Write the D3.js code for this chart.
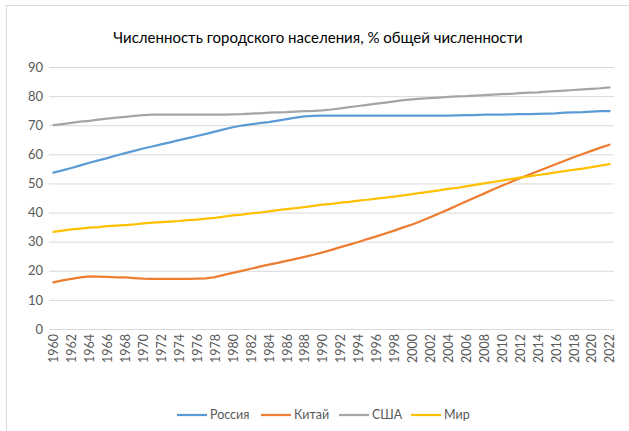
<!DOCTYPE html>
<html>
<head>
<meta charset="utf-8">
<script src="https://cdn.jsdelivr.net/npm/d3@7"></script>
<style>
  html, body { margin: 0; padding: 0; background: #fff; }
  svg { display: block; font-family: Lato, "Open Sans", sans-serif; }
</style>
</head>
<body>
<svg id="chart" width="629" height="431"></svg>
<script>
// Urban population, % of total population, 1960–2022
const years = d3.range(1960, 2023);

const russia = [
  53.7, 54.5, 55.3, 56.2, 57.1, 57.9, 58.7, 59.6, 60.4, 61.2,
  62.0, 62.7, 63.4, 64.1, 64.9, 65.6, 66.3, 67.0, 67.8, 68.6,
  69.3, 69.9, 70.3, 70.7, 71.1, 71.6, 72.1, 72.6, 73.0, 73.2,
  73.3, 73.3, 73.3, 73.3, 73.3, 73.3, 73.3, 73.3, 73.3, 73.3,
  73.3, 73.3, 73.3, 73.3, 73.3, 73.4, 73.5, 73.5, 73.6, 73.6,
  73.6, 73.7, 73.8, 73.8, 73.9, 74.0, 74.1, 74.3, 74.4, 74.5,
  74.7, 74.8, 74.8
];

const china = [
  16.0, 16.7, 17.2, 17.7, 18.1, 18.0, 17.9, 17.7, 17.7, 17.5,
  17.3, 17.2, 17.2, 17.2, 17.2, 17.2, 17.3, 17.4, 17.8, 18.6,
  19.3, 20.0, 20.7, 21.4, 22.1, 22.7, 23.4, 24.1, 24.8, 25.5,
  26.3, 27.2, 28.1, 29.0, 29.9, 30.9, 31.8, 32.8, 33.8, 34.9,
  35.9, 37.1, 38.4, 39.7, 41.0, 42.4, 43.8, 45.2, 46.5, 47.9,
  49.2, 50.5, 51.8, 53.0, 54.2, 55.4, 56.6, 57.8, 59.0, 60.1,
  61.2, 62.3, 63.3
];

const usa = [
  70.0, 70.4, 70.8, 71.2, 71.5, 71.9, 72.3, 72.6, 72.9, 73.2,
  73.5, 73.6, 73.6, 73.6, 73.6, 73.6, 73.6, 73.6, 73.6, 73.6,
  73.7, 73.8, 74.0, 74.1, 74.3, 74.4, 74.5, 74.7, 74.8, 74.9,
  75.1, 75.4, 75.8, 76.2, 76.6, 77.0, 77.4, 77.8, 78.2, 78.6,
  78.9, 79.1, 79.3, 79.5, 79.7, 79.9, 80.0, 80.2, 80.3, 80.5,
  80.7, 80.8, 81.0, 81.2, 81.3, 81.5, 81.7, 81.9, 82.1, 82.3,
  82.5, 82.7, 83.0
];

const world = [
  33.4, 33.8, 34.2, 34.5, 34.8, 35.0, 35.3, 35.5, 35.7, 35.9,
  36.3, 36.5, 36.7, 36.9, 37.1, 37.4, 37.6, 37.9, 38.2, 38.6,
  39.0, 39.3, 39.7, 40.0, 40.4, 40.8, 41.2, 41.5, 41.9, 42.3,
  42.7, 43.0, 43.4, 43.7, 44.1, 44.4, 44.8, 45.1, 45.5, 45.9,
  46.3, 46.8, 47.2, 47.6, 48.1, 48.5, 49.0, 49.5, 50.0, 50.5,
  51.0, 51.5, 52.0, 52.4, 52.9, 53.3, 53.8, 54.2, 54.7, 55.1,
  55.6, 56.1, 56.6
];

const seriesNames = ["Россия", "Китай", "США", "Мир"];
const seriesColors = ["#5B9BD5", "#ED7D31", "#A5A5A5", "#FFC000"];
const seriesValues = [russia, china, usa, world];
const yTicks = [0, 10, 20, 30, 40, 50, 60, 70, 80, 90];
const chartTitle = "Численность городского населения, % общей численности";

const svg = d3.select("#chart");
const W = 629, H = 431;
const margin = { left: 49, right: 15, top: 67, bottom: 102 };

// outer chart frame
svg.append("rect")
  .attr("x", 6.5).attr("y", 5.5)
  .attr("width", W + 20).attr("height", H + 20)
  .attr("fill", "none").attr("stroke", "#D9D9D9").attr("stroke-width", 1);

const x = d3.scalePoint()
  .domain(years)
  .range([margin.left, W - margin.right])
  .padding(0.5);

const y = d3.scaleLinear()
  .domain([0, 90])
  .range([H - margin.bottom, margin.top]);

// title
svg.append("text")
  .attr("x", 318).attr("y", 43)
  .attr("text-anchor", "middle")
  .attr("font-size", 15)
  .attr("fill", "#000")
  .text(chartTitle);

// horizontal gridlines + y labels
const yAxis = d3.axisLeft(y)
  .tickValues(yTicks)
  .tickSize(-(W - margin.right - margin.left))
  .tickPadding(6);

const gy = svg.append("g")
  .attr("transform", `translate(${margin.left},0)`)
  .call(yAxis);
gy.select(".domain").remove();
gy.selectAll(".tick line").attr("stroke", "#D9D9D9").attr("stroke-width", 1);
gy.selectAll(".tick text")
  .attr("fill", "#595959")
  .attr("font-size", 13)
  .attr("font-family", "Lato, 'Open Sans', sans-serif");

// x axis labels, every second year, rotated
const xAxis = d3.axisBottom(x)
  .tickValues(years.filter(v => (v - 1960) % 2 === 0))
  .tickSize(0)
  .tickPadding(0);

const gx = svg.append("g")
  .attr("transform", `translate(0,${H - margin.bottom})`)
  .call(xAxis);
gx.select(".domain").remove();
gx.selectAll(".tick text")
  .attr("fill", "#595959")
  .attr("font-size", 12.5)
  .attr("font-family", "Lato, 'Open Sans', sans-serif")
  .attr("text-anchor", "end")
  .attr("dy", "0.35em")
  .attr("transform", "translate(0,5) rotate(-90)");

// series lines
const line = d3.line()
  .x((d, i) => x(years[i]))
  .y(d => y(d));

seriesValues.forEach((vals, k) => {
  svg.append("path")
    .datum(vals)
    .attr("fill", "none")
    .attr("stroke", seriesColors[k])
    .attr("stroke-width", 2.25)
    .attr("stroke-linejoin", "round")
    .attr("stroke-linecap", "round")
    .attr("d", line);
});

// legend
const legendX = [177, 261, 339, 411];
const lg = svg.append("g").attr("transform", "translate(0,415)");
seriesNames.forEach((name, k) => {
  lg.append("line")
    .attr("x1", legendX[k]).attr("x2", legendX[k] + 30)
    .attr("y1", 0).attr("y2", 0)
    .attr("stroke", seriesColors[k]).attr("stroke-width", 2.25);
  lg.append("text")
    .attr("x", legendX[k] + 33).attr("y", 0)
    .attr("dy", "0.35em")
    .attr("font-size", 12.5)
    .attr("fill", "#595959")
    .text(name);
});
</script>
</body>
</html>
